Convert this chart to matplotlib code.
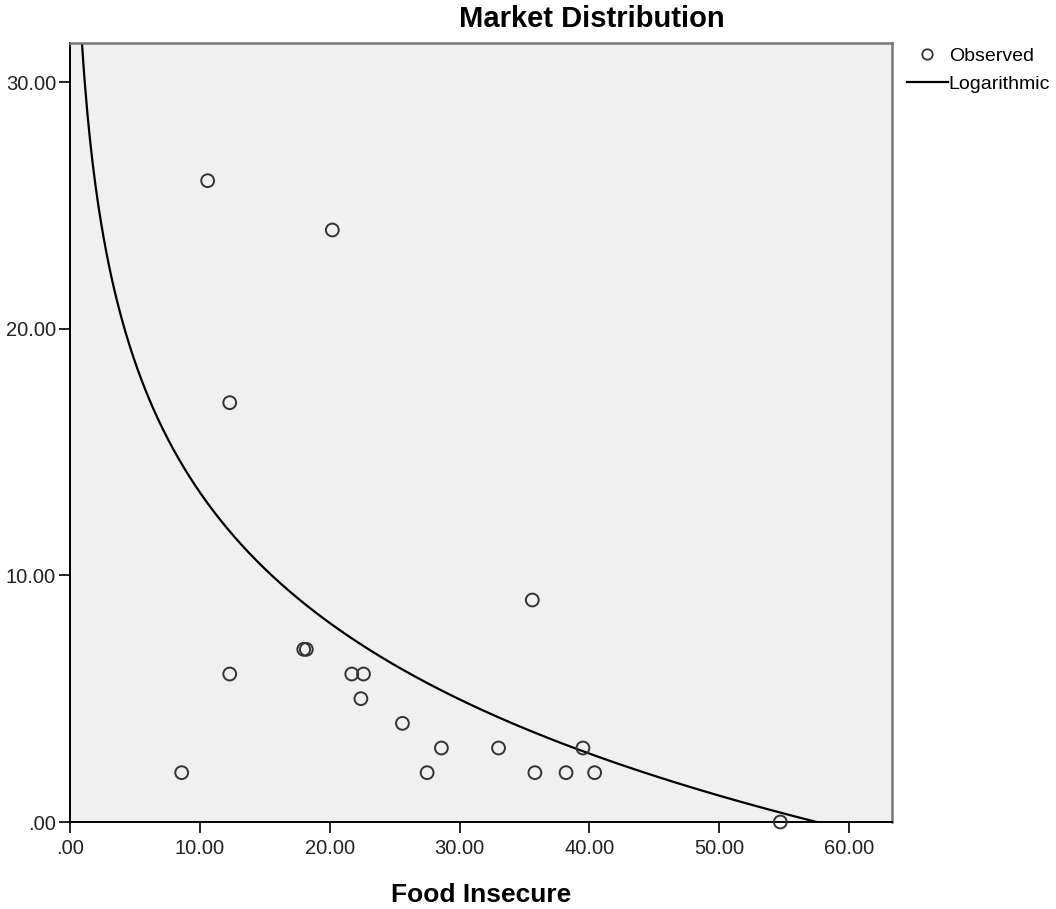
import matplotlib
matplotlib.use("Agg")
import matplotlib.pyplot as plt
from matplotlib.lines import Line2D
from matplotlib.ticker import FuncFormatter
import numpy as np

plt.rcParams['font.family'] = ['Liberation Sans', 'DejaVu Sans']

food_insecure = [10.6, 20.2, 12.3, 8.6, 12.3, 18.0, 18.2, 21.7, 22.6, 22.4,
                 25.6, 28.6, 27.5, 33.0, 35.6, 35.8, 38.2, 39.5, 40.4, 54.7]
market_dist = [26, 24, 17, 2, 6, 7, 7, 6, 6, 5,
               4, 3, 2, 3, 9, 2, 2, 3, 2, 0]

# logarithmic curve y = b0 + b1*ln(x)
b1 = -7.64
b0 = -b1 * np.log(57.5)


def spss_fmt(v, pos):
    s = "%.2f" % v
    if s.startswith("0"):
        s = s[1:]
    return s


fig = plt.figure(figsize=(10.56, 9.09), dpi=100)
ax = fig.add_axes([0.0663, 0.0957, 0.7784, 0.8575])
ax.set_facecolor('#f0f0f0')

ax.scatter(food_insecure, market_dist, s=85, facecolors='none',
           edgecolors='#333333', linewidths=1.4, zorder=3, clip_on=False)

xs = np.linspace(0.5, 63, 600)
ys = b0 + b1 * np.log(xs)
mask = ys >= 0
ax.plot(xs[mask], ys[mask], color='black', lw=1.6, zorder=2)

ax.set_xlim(0, 63.3)
ax.set_ylim(0, 31.6)
ax.set_xticks([0, 10, 20, 30, 40, 50, 60])
ax.set_yticks([0, 10, 20, 30])
ax.xaxis.set_major_formatter(FuncFormatter(spss_fmt))
ax.yaxis.set_major_formatter(FuncFormatter(spss_fmt))
ax.tick_params(direction='out', length=8, width=1.2, labelsize=14.5,
               colors='black', pad=2)
ax.tick_params(axis='x', pad=4)
for lab in ax.get_xticklabels() + ax.get_yticklabels():
    lab.set_color('#222222')

for side in ['left', 'bottom']:
    ax.spines[side].set_color('black')
    ax.spines[side].set_linewidth(1.4)
for side in ['top', 'right']:
    ax.spines[side].set_color('#777777')
    ax.spines[side].set_linewidth(1.8)

fig.text(481 / 1056, 1 - 902 / 909, 'Food Insecure', fontsize=19,
         fontweight='bold', ha='center', va='baseline')
fig.text(592 / 1056, 1 - 27 / 909, 'Market Distribution', fontsize=21,
         fontweight='bold', ha='center', va='baseline')

handles = [Line2D([], [], marker='o', ls='none', markerfacecolor='none',
                  markeredgecolor='#333333', markersize=7.5, markeredgewidth=1.3),
           Line2D([], [], color='black', lw=1.6)]
fig.legend(handles, ['Observed', 'Logarithmic'], loc='upper left',
           bbox_to_anchor=(907 / 1056, 1 - 47 / 909), frameon=False,
           fontsize=14, handlelength=2.1, handletextpad=0.05,
           labelspacing=0.55, borderaxespad=0, borderpad=0)

fig.savefig('out.png', dpi=100)
